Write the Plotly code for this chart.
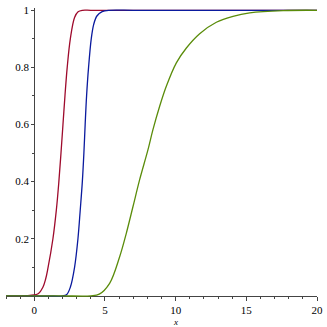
import plotly.graph_objects as go

# curve samples (x, cumulative value)
red_x = [-2, -1, -0.5, 0, 0.3, 0.61, 0.8, 0.96, 1.32, 1.56, 1.74, 1.89, 2.03, 2.17, 2.33, 2.55, 2.85, 3.1, 3.4, 4, 6, 10, 20]
red_y = [0, 0, 0.0005, 0.003, 0.008, 0.03, 0.058, 0.095, 0.2, 0.3, 0.4, 0.5, 0.6, 0.7, 0.8, 0.9, 0.975, 0.995, 1, 1, 1, 1, 1]

blue_x = [-2, 0, 1, 2.0, 2.3, 2.55, 2.85, 3.09, 3.25, 3.4, 3.51, 3.6, 3.7, 3.84, 4.03, 4.2, 4.43, 4.8, 5.3, 7, 10, 20]
blue_y = [0, 0, 0, 0, 0.005, 0.03, 0.1, 0.2, 0.3, 0.4, 0.5, 0.6, 0.7, 0.8, 0.9, 0.95, 0.98, 0.995, 1, 1, 1, 1]

green_x = [-2, 0, 2, 4.0, 4.6, 5.33, 6.04, 6.51, 6.98, 7.45, 8.04, 8.39, 8.87, 9.34, 10.05, 10.76, 11.7, 12.88, 14.06, 15.24, 17.6, 20]
green_y = [0, 0, 0, 0, 0.006, 0.044, 0.137, 0.219, 0.312, 0.406, 0.511, 0.581, 0.664, 0.734, 0.816, 0.868, 0.918, 0.958, 0.979, 0.991, 0.999, 1]

x_ticks = [0, 5, 10, 15, 20]
y_ticks = [0.2, 0.4, 0.6, 0.8, 1]
y_labels = ["0.2", "0.4", "0.6", "0.8", "1"]

series = [
    (red_x, red_y, "#9E0A2C"),
    (blue_x, blue_y, "#0A1A9E"),
    (green_x, green_y, "#5A8C0A"),
]

fig = go.Figure()
for xs, ys, col in series:
    fig.add_trace(go.Scatter(
        x=xs, y=ys, mode="lines",
        line=dict(color=col, width=1.3, shape="spline", smoothing=1),
        showlegend=False,
    ))

serif = "Times New Roman, Liberation Serif, serif"
tick_font = dict(family=serif, size=11, color="black")
axis_col = "#444444"

fig.update_layout(
    width=327, height=327,
    margin=dict(l=6, r=10, t=8, b=30),
    paper_bgcolor="white", plot_bgcolor="white",
    xaxis=dict(
        range=[-2, 20], showgrid=False, zeroline=False, automargin=False,
        showline=True, linecolor=axis_col, linewidth=1,
        anchor="free", position=0.004, layer="below traces",
        tickvals=x_ticks, ticks="outside", ticklen=4, tickcolor=axis_col,
        tickfont=tick_font,
        minor=dict(dtick=1, tick0=0, ticks="outside", ticklen=2, tickcolor=axis_col),
    ),
    yaxis=dict(
        range=[-0.004, 1.008], showgrid=False, zeroline=False, automargin=False,
        showline=True, linecolor=axis_col, linewidth=1,
        anchor="free", position=2 / 22, layer="below traces",
        tickvals=y_ticks, ticktext=y_labels, ticks="outside", ticklen=3,
        tickcolor=axis_col, tickfont=tick_font,
        minor=dict(dtick=0.1, tick0=0, ticks="outside", ticklen=2, tickcolor=axis_col),
    ),
    annotations=[dict(
        text="<i>x</i>", x=10, xref="x", y=0, yref="paper",
        yanchor="middle", yshift=-25, showarrow=False,
        font=dict(family=serif, size=9, color="black"),
    )],
)

# drop the browser's default page margin so the figure sits at the window corner
fig.write_html("out.html", config={"displayModeBar": False},
               post_script="document.body.style.margin='0';")
